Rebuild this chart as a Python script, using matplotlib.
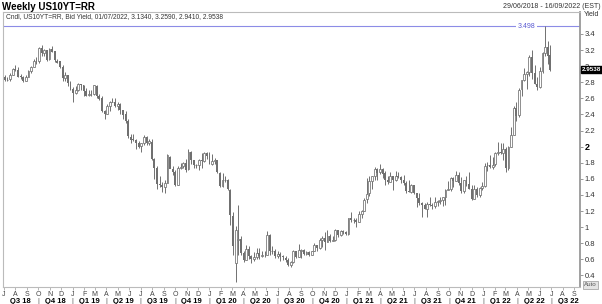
import matplotlib.pyplot as plt
import matplotlib.dates as mdates
import numpy as np
import pandas as pd

plt.rcParams['font.family'] = ['Liberation Sans', 'DejaVu Sans']

# weekly candles, week ending Friday 29/06/2018 .. 01/07/2022
weeks = pd.date_range('2018-06-29', '2022-07-01', freq='W-FRI')

opens = [
    2.89,
    # 2018
    2.86, 2.83, 2.84, 2.89, 2.96, 2.95, 2.88, 2.87, 2.82, 2.87, 2.94, 2.99, 3.07,
    3.06, 3.23, 3.16, 3.20, 3.09, 3.21, 3.19, 3.07, 3.06, 2.99, 2.85, 2.89, 2.79,
    # 2019
    2.72, 2.67, 2.70, 2.78, 2.76, 2.69, 2.64, 2.66, 2.65, 2.75, 2.63, 2.60, 2.44,
    2.41, 2.50, 2.56, 2.56, 2.50, 2.53, 2.45, 2.40, 2.32, 2.12, 2.09, 2.08, 2.05,
    2.01, 2.04, 2.12, 2.05, 2.06, 1.85, 1.73, 1.54, 1.52, 1.50, 1.55, 1.87, 1.72,
    1.68, 1.53, 1.73, 1.76, 1.80, 1.72, 1.94, 1.83, 1.77, 1.77, 1.83, 1.82, 1.92,
    # 2020
    1.88, 1.79, 1.82, 1.83, 1.67, 1.51, 1.58, 1.59, 1.46, 1.14, 0.55, 0.84, 0.85,
    0.68, 0.59, 0.73, 0.64, 0.60, 0.63, 0.68, 0.64, 0.66, 0.66, 0.90, 0.70, 0.70,
    0.64, 0.67, 0.64, 0.62, 0.59, 0.53, 0.57, 0.71, 0.63, 0.71, 0.72, 0.67, 0.69,
    0.66, 0.70, 0.78, 0.74, 0.84, 0.87, 0.82, 0.89, 0.83, 0.84, 0.97, 0.90, 0.95,
    # 2021
    0.94, 0.92, 1.11, 1.09, 1.09, 1.07, 1.17, 1.20, 1.35, 1.42, 1.57, 1.63, 1.72,
    1.68, 1.72, 1.67, 1.58, 1.56, 1.63, 1.58, 1.63, 1.62, 1.59, 1.55, 1.45, 1.44,
    1.52, 1.43, 1.36, 1.30, 1.28, 1.23, 1.29, 1.28, 1.26, 1.31, 1.33, 1.34, 1.37,
    1.46, 1.47, 1.61, 1.57, 1.65, 1.55, 1.45, 1.58, 1.54, 1.48, 1.35, 1.48, 1.40, 1.49,
    # 2022
    1.51, 1.77, 1.77, 1.75, 1.78, 1.92, 1.94, 1.92, 1.97, 1.73, 2.00, 2.15,
    2.48, 2.39, 2.72, 2.83, 2.90, 2.93, 3.12, 2.92, 2.78, 2.74, 2.94, 3.16, 3.24,
    3.134,
]
highs = [
    2.90,
    2.89, 2.87, 2.92, 2.98, 3.01, 2.99, 2.90, 2.88, 2.89, 2.95, 3.00, 3.09, 3.11,
    3.24, 3.26, 3.21, 3.20, 3.22, 3.25, 3.19, 3.09, 3.07, 3.02, 2.93, 2.89, 2.82,
    2.74, 2.75, 2.79, 2.78, 2.77, 2.73, 2.71, 2.70, 2.77, 2.76, 2.65, 2.63, 2.46,
    2.53, 2.57, 2.61, 2.60, 2.56, 2.54, 2.46, 2.44, 2.34, 2.16, 2.16, 2.10, 2.07,
    2.05, 2.14, 2.13, 2.09, 2.10, 1.86, 1.76, 1.63, 1.56, 1.59, 1.91, 1.88, 1.76,
    1.71, 1.76, 1.80, 1.81, 1.85, 1.97, 1.95, 1.84, 1.79, 1.85, 1.92, 1.94, 1.94,
    1.93, 1.91, 1.86, 1.84, 1.68, 1.67, 1.64, 1.60, 1.47, 1.19, 1.01, 1.28, 0.89,
    0.70, 0.78, 0.77, 0.66, 0.69, 0.74, 0.74, 0.71, 0.71, 0.95, 0.91, 0.77, 0.73,
    0.71, 0.69, 0.66, 0.64, 0.62, 0.58, 0.72, 0.71, 0.79, 0.73, 0.73, 0.71, 0.70,
    0.70, 0.80, 0.78, 0.87, 0.89, 0.94, 0.97, 0.91, 0.89, 0.98, 0.97, 0.96, 0.96,
    0.95, 1.12, 1.19, 1.12, 1.11, 1.20, 1.21, 1.36, 1.61, 1.63, 1.64, 1.75, 1.73,
    1.78, 1.73, 1.70, 1.64, 1.68, 1.64, 1.70, 1.69, 1.63, 1.65, 1.57, 1.59, 1.54,
    1.53, 1.43, 1.42, 1.31, 1.30, 1.31, 1.38, 1.30, 1.37, 1.34, 1.38, 1.38, 1.47,
    1.57, 1.62, 1.62, 1.70, 1.68, 1.62, 1.59, 1.63, 1.69, 1.52, 1.53, 1.50, 1.50, 1.56,
    1.80, 1.81, 1.90, 1.87, 1.94, 2.06, 2.05, 2.05, 1.99, 2.01, 2.25, 2.50,
    2.56, 2.73, 2.83, 2.98, 2.94, 3.14, 3.20, 3.02, 2.86, 2.99, 3.18, 3.498, 3.31,
    3.259,
]
lows = [
    2.82,
    2.82, 2.82, 2.82, 2.89, 2.94, 2.86, 2.84, 2.80, 2.81, 2.87, 2.92, 2.99, 3.03,
    3.04, 3.13, 3.13, 3.06, 3.08, 3.17, 3.05, 3.04, 2.98, 2.82, 2.82, 2.75, 2.71,
    2.55, 2.66, 2.69, 2.71, 2.63, 2.63, 2.63, 2.63, 2.64, 2.61, 2.58, 2.43, 2.34,
    2.41, 2.44, 2.55, 2.49, 2.45, 2.41, 2.35, 2.29, 2.11, 2.05, 2.07, 1.97, 1.98,
    1.94, 2.02, 2.02, 2.02, 1.83, 1.60, 1.47, 1.50, 1.44, 1.43, 1.55, 1.73, 1.65,
    1.51, 1.52, 1.72, 1.74, 1.68, 1.71, 1.79, 1.73, 1.73, 1.71, 1.73, 1.81, 1.85,
    1.78, 1.77, 1.78, 1.67, 1.50, 1.50, 1.56, 1.46, 1.03, 0.66, 0.32, 0.66, 0.66,
    0.57, 0.59, 0.60, 0.55, 0.58, 0.60, 0.60, 0.63, 0.63, 0.65, 0.65, 0.67, 0.62,
    0.62, 0.58, 0.59, 0.57, 0.52, 0.50, 0.56, 0.62, 0.63, 0.62, 0.66, 0.66, 0.64,
    0.65, 0.70, 0.71, 0.73, 0.75, 0.72, 0.81, 0.82, 0.83, 0.83, 0.88, 0.89, 0.91,
    0.90, 0.90, 1.07, 1.05, 1.00, 1.07, 1.12, 1.20, 1.30, 1.39, 1.47, 1.59, 1.58,
    1.66, 1.61, 1.53, 1.54, 1.56, 1.46, 1.57, 1.61, 1.55, 1.53, 1.43, 1.44, 1.43,
    1.41, 1.25, 1.28, 1.13, 1.22, 1.13, 1.26, 1.22, 1.24, 1.26, 1.29, 1.26, 1.27,
    1.46, 1.45, 1.50, 1.57, 1.52, 1.43, 1.42, 1.51, 1.47, 1.34, 1.35, 1.37, 1.38, 1.46,
    1.50, 1.70, 1.74, 1.72, 1.76, 1.90, 1.91, 1.84, 1.68, 1.71, 1.99, 2.14,
    2.32, 2.37, 2.63, 2.82, 2.72, 2.88, 2.84, 2.78, 2.71, 2.73, 2.91, 3.13, 3.03,
    2.941,
]
closes = [
    2.86,
    2.83, 2.83, 2.89, 2.96, 2.95, 2.87, 2.87, 2.82, 2.86, 2.94, 2.99, 3.06, 3.06,
    3.23, 3.16, 3.20, 3.08, 3.21, 3.18, 3.08, 3.04, 2.99, 2.85, 2.89, 2.79, 2.72,
    2.67, 2.70, 2.78, 2.76, 2.69, 2.63, 2.66, 2.65, 2.76, 2.63, 2.59, 2.44, 2.41,
    2.50, 2.56, 2.56, 2.50, 2.53, 2.46, 2.39, 2.32, 2.13, 2.08, 2.08, 2.05, 2.00,
    2.04, 2.12, 2.05, 2.07, 1.85, 1.74, 1.54, 1.52, 1.50, 1.55, 1.90, 1.72, 1.68,
    1.53, 1.73, 1.75, 1.80, 1.71, 1.94, 1.83, 1.77, 1.77, 1.84, 1.82, 1.92, 1.88,
    1.79, 1.82, 1.83, 1.68, 1.51, 1.58, 1.59, 1.47, 1.15, 0.77, 0.96, 0.85, 0.68,
    0.59, 0.73, 0.64, 0.60, 0.63, 0.68, 0.64, 0.66, 0.65, 0.90, 0.70, 0.70, 0.64,
    0.67, 0.64, 0.63, 0.59, 0.53, 0.57, 0.71, 0.63, 0.72, 0.72, 0.67, 0.69, 0.66,
    0.70, 0.78, 0.74, 0.84, 0.87, 0.82, 0.89, 0.83, 0.84, 0.97, 0.90, 0.95, 0.94,
    0.92, 1.11, 1.09, 1.09, 1.07, 1.17, 1.20, 1.34, 1.41, 1.57, 1.63, 1.72, 1.67,
    1.72, 1.66, 1.58, 1.56, 1.63, 1.58, 1.63, 1.62, 1.59, 1.55, 1.45, 1.44, 1.52,
    1.43, 1.36, 1.30, 1.28, 1.23, 1.29, 1.28, 1.26, 1.31, 1.33, 1.34, 1.37, 1.46,
    1.47, 1.61, 1.57, 1.65, 1.55, 1.45, 1.58, 1.54, 1.48, 1.35, 1.48, 1.40, 1.49, 1.51,
    1.76, 1.77, 1.75, 1.77, 1.92, 1.94, 1.92, 1.97, 1.73, 1.99, 2.15, 2.48,
    2.38, 2.71, 2.83, 2.90, 2.93, 3.12, 2.92, 2.78, 2.74, 2.94, 3.16, 3.24, 3.13,
    2.9538,
]

y_ticks = [0.4, 0.6, 0.8, 1.0, 1.2, 1.4, 1.6, 1.8, 2.0, 2.2, 2.4, 2.6, 2.8, 3.0, 3.2, 3.4]
y_labels = ['0.4', '0.6', '0.8', '1', '1.2', '1.4', '1.6', '1.8', '2',
            '2.2', '2.4', '2.6', '2.8', '3', '3.2', '3.4']
peak = 3.498
last = 2.9538
header = 'Cndl, US10YT=RR, Bid Yield, 01/07/2022, 3.1340, 3.2590, 2.9410, 2.9538'

o, h, l, c = map(np.array, (opens, highs, lows, closes))
x = mdates.date2num(weeks - pd.Timedelta(days=2))
up = c >= o

W, H = 602, 304
fig = plt.figure(figsize=(W / 100, H / 100), dpi=100)
ax = fig.add_axes([3 / W, 17 / H, 577 / W, 275 / H])

grey = '#707070'
ax.vlines(x, l, h, color=grey, lw=0.7, zorder=2)
ax.bar(x[up], (c - o)[up], bottom=o[up], width=5, facecolor='white',
       edgecolor=grey, lw=0.55, zorder=3)
ax.bar(x[~up], (o - c)[~up], bottom=c[~up], width=5, color=grey, lw=0, zorder=3)

x0 = mdates.date2num(pd.Timestamp('2018-06-29'))
x1 = mdates.date2num(pd.Timestamp('2022-09-16'))
ax.set_xlim(x0, x1)
ax.set_ylim(0.257, 3.673)

# peak line
ax.axhline(peak, color='#8c8ce6', lw=0.8, zorder=1)
ax.text(mdates.date2num(pd.Timestamp('2022-04-27')), peak, f'{peak:.3f}', color='#5a5ad2',
        fontsize=5, ha='center', va='center', zorder=4,
        bbox=dict(boxstyle='square,pad=0.25', fc='white', ec='none'))

# right axis
ax.yaxis.tick_right()
ax.set_yticks(y_ticks, y_labels)
ax.tick_params(axis='y', length=2.5, width=0.6, color='#888', labelsize=5.5,
               pad=1, labelcolor='#333')
for t in ax.get_yticklabels():
    if t.get_text() == '2':
        t.set_fontweight('bold')
        t.set_fontsize(6.5)
        t.set_color('black')

# months
months = pd.date_range('2018-07-01', '2022-09-01', freq='MS')
ax.set_xticks(mdates.date2num(months), [m.strftime('%b')[0] for m in months])
ax.tick_params(axis='x', length=2, width=0.5, color='#999', labelsize=5,
               pad=1, labelcolor='#444')

# quarters
quarters = pd.date_range('2018-07-01', '2022-07-01', freq='QS')
tr = ax.get_xaxis_transform()
for i, q in enumerate(quarters):
    mid = mdates.date2num(q + pd.Timedelta(days=45))
    ax.text(mid, -0.051, f'Q{q.quarter} {q.strftime("%y")}', transform=tr,
            ha='center', va='center', fontsize=5.5, fontweight='bold', clip_on=False)
    if i > 0:
        ax.text(mdates.date2num(q), -0.051, '|', transform=tr, ha='center',
                va='center', fontsize=5.5, color='#555', clip_on=False)

for s in ['left', 'top', 'bottom']:
    ax.spines[s].set_color('#bbbbbb')
    ax.spines[s].set_linewidth(0.8)
ax.spines['right'].set_color('#999999')
ax.spines['right'].set_linewidth(1.3)

# last value box
ax.text(1.003, last, f'{last:.4f}', transform=ax.get_yaxis_transform(),
        color='white', fontsize=4.5, fontweight='bold', ha='left', va='center',
        zorder=5, clip_on=False,
        bbox=dict(boxstyle='square,pad=0.15', fc='black', ec='black'))

# header texts
fig.text(2 / W, 1 - 7 / H, 'Weekly US10YT=RR', fontsize=7, fontweight='bold',
         ha='left', va='center')
fig.text(6 / W, 1 - 16.5 / H, header, fontsize=4.8, color='#333', ha='left', va='center')
fig.text(601 / W, 1 - 6 / H, '29/06/2018 - 16/09/2022 (EST)', fontsize=5,
         color='#333', ha='right', va='center')
fig.text(584 / W, 1 - 15 / H, 'Yield', fontsize=5, color='#333', ha='left', va='center')
fig.text(584 / W, 1 - 285 / H, 'Auto', fontsize=4.5, color='#555', ha='left', va='center',
         bbox=dict(boxstyle='square,pad=0.2', fc='#e4e4e4', ec='#999', lw=0.5))

fig.savefig('out.png', dpi=100)
